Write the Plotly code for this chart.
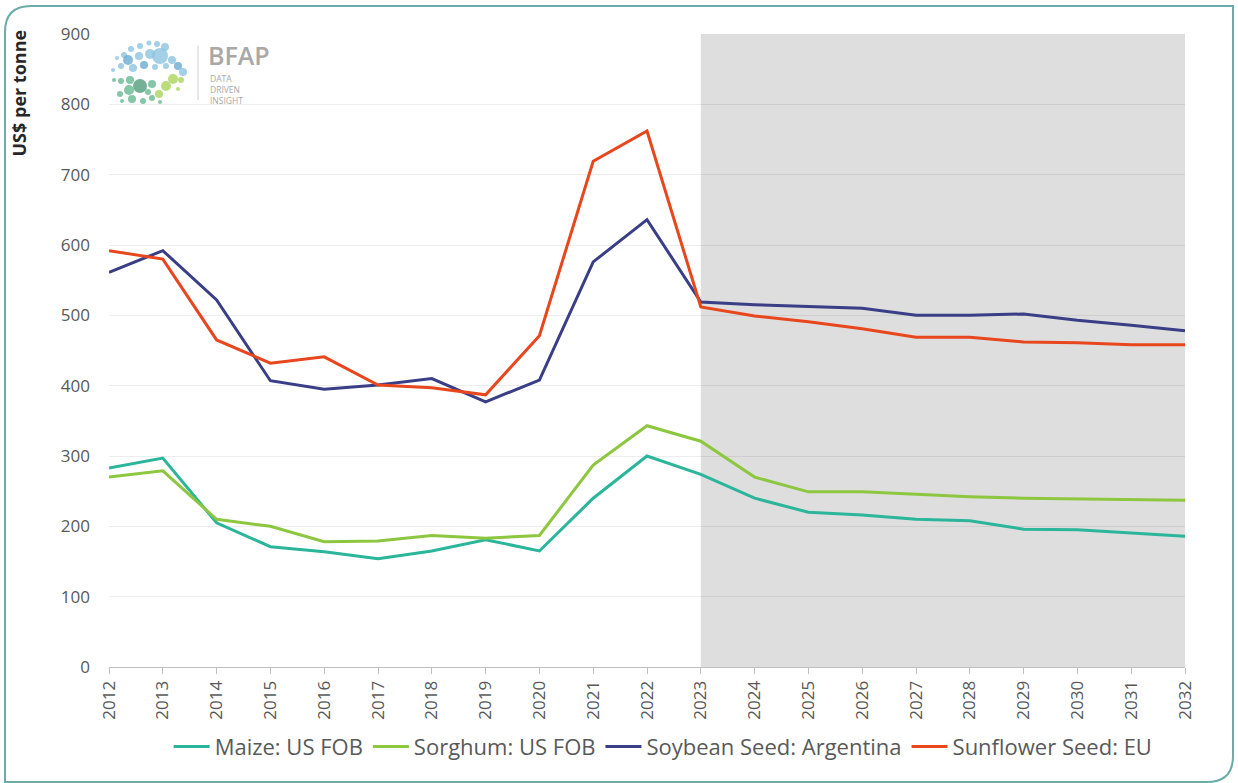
import plotly.graph_objects as go

years = list(range(2012, 2033))
maize = [283, 297, 205, 171, 164, 154, 165, 181, 165, 240, 300, 274, 240, 220, 216, 210, 208, 196, 195, 190, 186]
sorghum = [270, 279, 210, 200, 178, 179, 187, 183, 187, 287, 343, 321, 270, 249, 249, 245, 242, 240, 239, 237, 237]
soybean = [561, 592, 522, 407, 395, 401, 410, 377, 408, 576, 636, 519, 515, 513, 510, 500, 500, 502, 493, 486, 478]
sunflower = [592, 580, 465, 432, 441, 401, 397, 387, 471, 719, 762, 512, 499, 491, 481, 469, 469, 462, 461, 458, 458]

series = [
    ("Maize: US FOB", maize, "#2BB59A"),
    ("Sorghum: US FOB", sorghum, "#8DC63F"),
    ("Soybean Seed: Argentina", soybean, "#393E86"),
    ("Sunflower Seed: EU", sunflower, "#E8461C"),
]
projection_start = 2023
projection_end = 2032

W, H = 1238, 783
L, R, T, B = 109, 53, 34, 116
PW, PH = W - L - R, H - T - B


def px(x):
    return (x - L) / PW


def py(y):
    return (H - B - y) / PH


fig = go.Figure()
for name, vals, col in series:
    fig.add_trace(go.Scatter(x=years, y=vals, name=name, mode="lines",
                             line=dict(color=col, width=3)))

shapes = []
# projection shading
shapes.append(dict(type="rect", xref="x", yref="y", x0=projection_start, x1=projection_end,
                   y0=0, y1=900, fillcolor="#DEDEDE", line=dict(width=0), layer="below"))
# border frame
path = (f"M {px(5)},{py(800)} L {px(5)},{py(32)} Q {px(5)},{py(6)} {px(31)},{py(6)} "
        f"L {px(1233)},{py(6)} L {px(1233)},{py(756)} Q {px(1233)},{py(782)} {px(1207)},{py(782)} "
        f"L {px(5)},{py(782)}")
shapes.append(dict(type="path", xref="paper", yref="paper", path=path,
                   line=dict(color="#6AADA8", width=2)))

# logo decoration (page pixels: x, y, radius, colour)
BL, BD, TG, DG, LG = ("rgba(140,195,225,0.8)", "rgba(95,165,205,0.75)", "rgba(100,185,145,0.8)",
                      "rgba(70,150,115,0.75)", "rgba(175,215,100,0.85)")
logo_dots = [
    (117, 58, 2, BL), (124, 55, 3, BL), (131, 49, 3, BL), (140, 46, 3, BL), (149, 43, 2.5, BL),
    (157, 44, 3, BL), (165, 47, 4, BL), (128, 60, 5, BD), (139, 56, 4, BL), (150, 54, 5, BL),
    (160, 56, 8, BL), (172, 60, 4, BL), (178, 66, 4, BD), (183, 72, 4, BL), (121, 66, 3, BL),
    (133, 68, 4, BL), (144, 65, 4, BD), (155, 67, 3, BL), (166, 66, 3, BL), (113, 70, 2, BL),
    (114, 80, 2, TG), (121, 81, 3, TG), (130, 80, 4, TG), (140, 86, 7, DG), (129, 90, 5, TG),
    (120, 94, 3, TG), (132, 99, 4, TG), (143, 101, 3, TG), (152, 98, 3, TG), (159, 94, 4, LG),
    (166, 86, 5, LG), (173, 79, 5, LG), (181, 80, 3, LG), (152, 84, 4, TG), (122, 101, 2, TG),
    (160, 102, 2, TG), (178, 89, 2, LG), (148, 92, 3, TG),
]
for (cx, cy, r, c) in logo_dots:
    shapes.append(dict(type="circle", xref="paper", yref="paper", x0=px(cx - r), x1=px(cx + r),
                       y0=py(cy + r), y1=py(cy - r), fillcolor=c, line=dict(width=0)))
shapes.append(dict(type="line", xref="paper", yref="paper", x0=px(198), x1=px(198),
                   y0=py(46), y1=py(100), line=dict(color="#D0D0D0", width=1)))

annotations = [
    dict(text="BFAP", xref="paper", yref="paper", x=px(206), y=py(55), xanchor="left",
         yanchor="middle", showarrow=False,
         font=dict(family="Open Sans", size=25, color="#A8A8A8", weight=600)),
    dict(text="DATA<br>DRIVEN<br>INSIGHT", xref="paper", yref="paper", x=px(208), y=py(89),
         xanchor="left", yanchor="middle", showarrow=False, align="left",
         font=dict(family="Open Sans", size=8.5, color="#A8A8A8")),
    dict(text="<b>US$ per tonne</b>", xref="paper", yref="paper", x=px(19), y=py(28),
         xanchor="center", yanchor="top", textangle=-90, showarrow=False,
         font=dict(family="Open Sans", size=18, color="#262626")),
]

fig.update_layout(
    width=W, height=H,
    margin=dict(l=L, r=R, t=T, b=B),
    paper_bgcolor="white", plot_bgcolor="white",
    font=dict(family="Open Sans", color="#595959", size=16),
    shapes=shapes, annotations=annotations,
    showlegend=True,
    legend=dict(orientation="h", x=0.515, xanchor="center", y=-0.126, yanchor="middle",
                bgcolor="rgba(0,0,0,0)",
                font=dict(size=22, color="#595959"), itemwidth=36, tracegroupgap=0),
    xaxis=dict(range=[2012, 2032], tickmode="linear", tick0=2012, dtick=1, tickangle=-90,
               showgrid=False, zeroline=False, showline=True, linecolor="#BFBFBF", linewidth=1,
               ticks="outside", ticklen=6, tickcolor="#BFBFBF",
               tickfont=dict(size=17, color="#595959")),
    yaxis=dict(range=[0, 900], tickmode="linear", tick0=0, dtick=100, showgrid=True,
               gridcolor="rgba(0,0,0,0.07)", gridwidth=1, zeroline=False, showline=False,
               tickfont=dict(size=17, color="#595959"), ticklabelstandoff=18),
)

fig.write_html("out.html", config={"displayModeBar": False},
               post_script="document.body.style.margin='0';")
